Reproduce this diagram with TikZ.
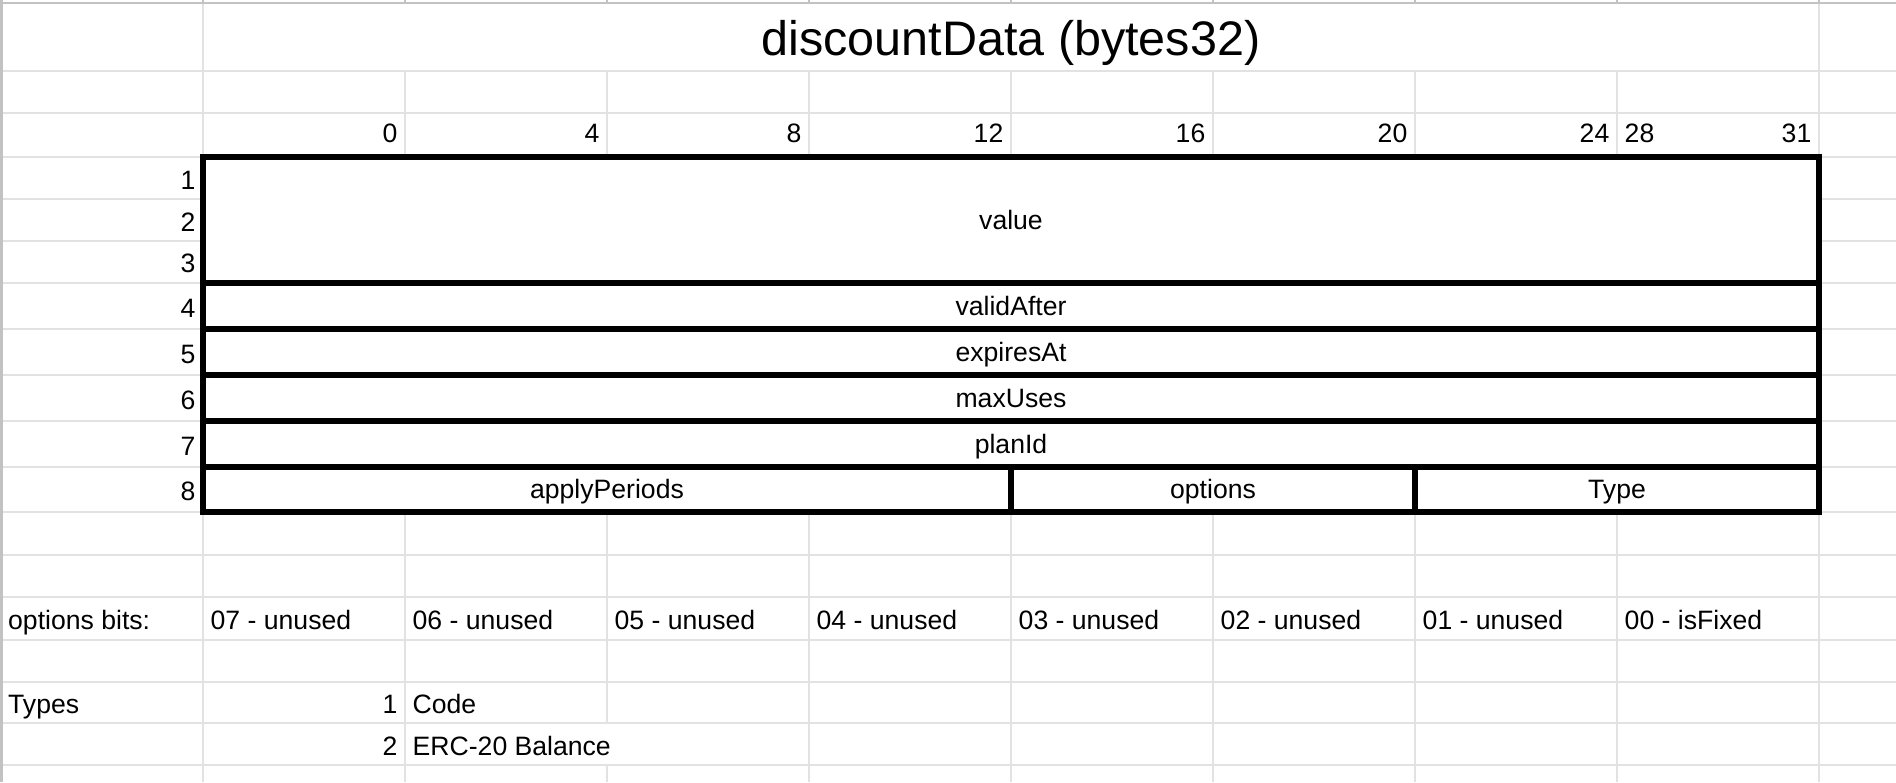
\documentclass[tikz,border=0pt]{standalone}
\usepackage{fontspec}
\setmainfont{Liberation Sans}
\definecolor{gridgray}{HTML}{E2E2E2}
\definecolor{edgegray}{HTML}{C2C2C2}
\newcommand{\sheetfont}{\fontsize{26.6}{32}\selectfont}

\begin{document}
\begin{tikzpicture}[x=1pt, y=-1pt,
        gridline/.style={gridgray, line width=2.2pt},
        edgeline/.style={edgegray, line width=2.6pt},
        celltext/.style={inner sep=0pt, text height=26.6pt, text depth=3.7pt, font=\sheetfont},
        field/.style={celltext, text depth=8.6pt, draw=black, line width=5.5pt, fill=white, outer sep=0pt, anchor=north west},
        titletext/.style={inner sep=0pt, anchor=base, font=\fontsize{48.5}{58}\selectfont}]
        \fill[white] (0,0) rectangle (1896,782);
        \useasboundingbox (0,0) rectangle (1896,782);
        \foreach \y in {71,113,157,199,241,283,329,375,421,467,512,555,597,640,682,723,765}
            \draw[gridline] (0,\y) -- (1896,\y);
        \foreach \x in {405,809,1011,1213,1415,1617}
            \draw[gridline] (\x,71) -- (\x,782);
        \draw[gridline] (607,71) -- (607,723) (607,765) -- (607,782);
        \draw[gridline] (203,0) -- (203,782) (1819,0) -- (1819,782);
        \foreach \x in {203,405,...,1819}
            \draw[edgeline] (\x,0) -- (\x,2);
        \draw[edgeline] (0,2.8) -- (1896,2.8);
        \draw[edgeline] (1.3,0) -- (1.3,782);

        \node[titletext] (title) at (1011,55) {discountData (bytes32)};

        \node[field, minimum width=1616pt, minimum height=126pt] (value) at (203,157) {value};
        \node[field, minimum width=1616pt, minimum height=46pt] (validAfter) at (203,283) {validAfter};
        \node[field, minimum width=1616pt, minimum height=46pt] (expiresAt) at (203,329) {expiresAt};
        \node[field, minimum width=1616pt, minimum height=46pt] (maxUses) at (203,375) {maxUses};
        \node[field, minimum width=1616pt, minimum height=46pt] (planId) at (203,421) {planId};
        \node[field, minimum width=808pt, minimum height=45pt] (applyPeriods) at (203,467) {applyPeriods};
        \node[field, minimum width=404pt, minimum height=45pt] (options) at (1011,467) {options};
        \node[field, minimum width=404pt, minimum height=45pt] (type) at (1415,467) {Type};

        \foreach \b/\x in {0/405,4/607,8/809,12/1011,16/1213,20/1415,24/1617,31/1819}
            \node[celltext, anchor=east] (bit\b) at (\x-7.5,131) {\b};
        \node[celltext, anchor=west] (bit28) at (1624.5,131) {28};

        \foreach \r/\y in {1/178,2/220,3/261,4/306,5/352,6/398,7/444,8/489.5}
            \node[celltext, anchor=east] (row\r) at (195.5,\y) {\r};

        \node[celltext, anchor=west] (optbits) at (8,618.5) {options bits:};
        \foreach \t [count=\i from 0] in {07 - unused,06 - unused,05 - unused,04 - unused,03 - unused,02 - unused,01 - unused,00 - isFixed}
            \node[celltext, anchor=west] (opt\i) at (210.5+202*\i,618.5) {\t};

        \node[celltext, anchor=west] (types) at (8,702.5) {Types};
        \node[celltext, anchor=east] (typeone) at (397.5,702.5) {1};
        \node[celltext, anchor=west] (code) at (412.5,702.5) {Code};
        \node[celltext, anchor=east] (typetwo) at (397.5,744) {2};
        \node[celltext, anchor=west] (erc) at (412.5,744) {ERC-20 Balance};
\end{tikzpicture}
\end{document}
